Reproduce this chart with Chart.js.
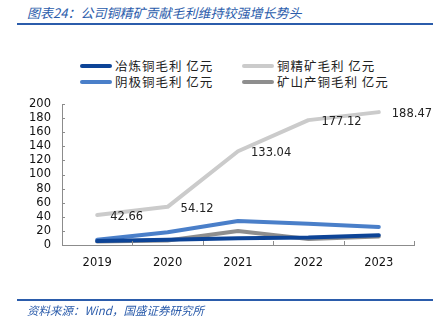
<!DOCTYPE html>
<html>
<head>
<meta charset="utf-8">
<script src="https://cdn.jsdelivr.net/npm/chart.js@4.4.1/dist/chart.umd.min.js"></script>
<style>
  html, body { margin: 0; padding: 0; background: #fff; }
  #wrap { position: relative; width: 441px; height: 335px; overflow: hidden; }
  #chart { position: absolute; left: 0; top: 0; }
  .title { position: absolute; left: 27px; top: 3px; font: italic 13px "Noto Sans CJK SC"; color: #2b5cab; white-space: nowrap; }
  .rule { position: absolute; left: 17px; width: 416px; height: 2px; background: #2b5cab; }
  .src { position: absolute; left: 27px; top: 302px; font: italic 11.5px "Noto Sans CJK SC"; color: #2b5cab; white-space: nowrap; }
  .lg { position: absolute; font: 12.5px "Noto Sans CJK SC"; letter-spacing: 1px; color: #222; white-space: nowrap; }
  .lg i { position: absolute; left: -35px; top: 8px; width: 32px; height: 4px; border-radius: 2px; }
</style>
</head>
<body>
<div id="wrap">
  <div class="title">图表24：公司铜精矿贡献毛利维持较强增长势头</div>
  <div class="rule" style="top:23px"></div>
  <div id="legend"></div>
  <canvas id="chart" width="441" height="335"></canvas>
  <div class="rule" style="top:299px;height:1.5px"></div>
  <div class="src">资料来源：Wind，国盛证券研究所</div>
</div>
<script>
const years = ["2019", "2020", "2021", "2022", "2023"];
const yeLianTong = [5.5, 7.5, 9.5, 10.5, 14];          // 冶炼铜毛利
const tongJingKuang = [42.66, 54.12, 133.04, 177.12, 188.47]; // 铜精矿毛利
const yinJiTong = [7.5, 18, 34, 30, 25.5];             // 阴极铜毛利
const kuangShanTong = [5, 6.5, 20, 8.5, 12];           // 矿山产铜毛利

const series = [
  { label: "冶炼铜毛利 亿元", data: yeLianTong, color: "#0d4497" },
  { label: "铜精矿毛利 亿元", data: tongJingKuang, color: "#cbcbcb" },
  { label: "阴极铜毛利 亿元", data: yinJiTong, color: "#4a7fc9" },
  { label: "矿山产铜毛利 亿元", data: kuangShanTong, color: "#8e8e8e" },
];

// legend: two columns, two rows
const legendPos = [[115, 56], [277, 56], [115, 72], [277, 72]];
const legendBox = document.getElementById("legend");
series.forEach((s, i) => {
  const el = document.createElement("div");
  el.className = "lg";
  el.style.left = legendPos[i][0] + "px";
  el.style.top = legendPos[i][1] + "px";
  el.innerHTML = `<i style="background:${s.color}"></i>${s.label}`;
  legendBox.appendChild(el);
});

const tickFont = { family: "DejaVu Sans", size: 11.5 };

// small inward tick marks on both axes, plus value labels on the 铜精矿 line
const extras = {
  id: "extras",
  afterDatasetsDraw(chart) {
    const ctx = chart.ctx;
    const { left, right, bottom } = chart.chartArea;
    const y = chart.scales.y;
    ctx.save();
    ctx.strokeStyle = "#8c8c8c";
    ctx.lineWidth = 1;
    ctx.beginPath();
    y.ticks.forEach((t, i) => {
      const py = Math.round(y.getPixelForTick(i)) + 0.5;
      ctx.moveTo(left, py);
      ctx.lineTo(left + 3, py);
    });
    const w = (right - left) / years.length;
    for (let i = 1; i <= years.length; i++) {
      const px = Math.round(left + i * w) + 0.5;
      ctx.moveTo(px, bottom);
      ctx.lineTo(px, bottom - 4);
    }
    ctx.stroke();

    ctx.fillStyle = "#222";
    ctx.font = "11.5px 'DejaVu Sans'";
    ctx.textAlign = "left";
    ctx.textBaseline = "middle";
    chart.getDatasetMeta(1).data.forEach((pt, i) => {
      ctx.fillText(tongJingKuang[i].toFixed(2), pt.x + 13, pt.y + 2);
    });
    ctx.restore();
  },
};

new Chart(document.getElementById("chart"), {
  type: "line",
  data: {
    labels: years,
    datasets: series.map((s) => ({
      label: s.label,
      data: s.data,
      borderColor: s.color,
      backgroundColor: s.color,
      borderWidth: 4,
      borderCapStyle: "round",
      borderJoinStyle: "round",
      pointRadius: 0,
      tension: 0,
    })),
  },
  options: {
    responsive: false,
    animation: false,
    layout: { padding: { left: 0, top: 104, right: 27, bottom: 60 } },
    plugins: { legend: { display: false }, tooltip: { enabled: false } },
    scales: {
      x: {
        offset: true,
        grid: { display: false, drawTicks: false },
        border: { display: true, color: "#8c8c8c", width: 1 },
        ticks: { color: "#111", font: tickFont, padding: 11, maxRotation: 0 },
        afterFit: (s) => { s.height = 30; },
      },
      y: {
        min: 0,
        max: 200,
        grid: { display: false, drawTicks: false },
        border: { display: true, color: "#8c8c8c", width: 1 },
        ticks: { stepSize: 20, autoSkip: false, color: "#111", font: tickFont, padding: 11 },
        afterFit: (s) => { s.width = 62; },
      },
    },
  },
  plugins: [extras],
});
</script>
</body>
</html>
